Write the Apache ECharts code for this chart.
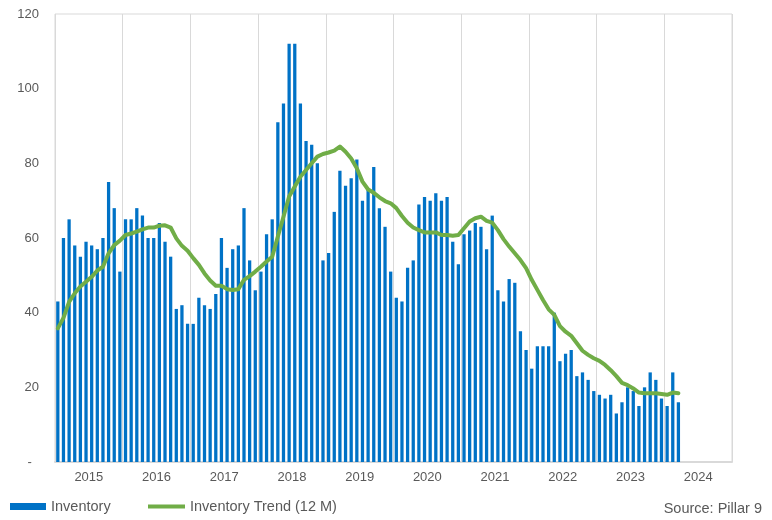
<!DOCTYPE html>
<html>
<head>
<meta charset="utf-8">
<title>Inventory</title>
<script src="https://cdn.jsdelivr.net/npm/echarts@6/dist/echarts.min.js"></script>
<style>
  html, body { margin: 0; padding: 0; background: #ffffff; }
  #chart { width: 772px; height: 520px; }
</style>
</head>
<body>
<div id="chart"></div>
<script>
// Year slots along the bottom axis
const years = ['2015', '2016', '2017', '2018', '2019', '2020', '2021', '2022', '2023', '2024'];

// One category per month, Jan 2015 .. Dec 2024
const months = [];
years.forEach(y => {
  for (let m = 1; m <= 12; m++) months.push(y + '-' + String(m).padStart(2, '0'));
});

// Monthly inventory, Jan 2015 .. Mar 2024
const inventory = [
  43, 60, 65, 58, 55, 59, 58, 57, 60, 75, 68, 51,
  65, 65, 68, 66, 60, 60, 64, 59, 55, 41, 42, 37,
  37, 44, 42, 41, 45, 60, 52, 57, 58, 68, 54, 46,
  51, 61, 65, 91, 96, 112, 112, 96, 86, 85, 80, 54,
  56, 67, 78, 74, 76, 81, 70, 73, 79, 68, 63, 51,
  44, 43, 52, 54, 69, 71, 70, 72, 70, 71, 59, 53,
  61, 62, 64, 63, 57, 66, 46, 43, 49, 48, 35, 30,
  25, 31, 31, 31, 40, 27, 29, 30, 23, 24, 22, 19,
  18, 17, 18, 13, 16, 20, 19, 15, 20, 24, 22, 17,
  15, 24, 16
];

// 12-month inventory trend, same months
const trend = [
  35.8, 38.6, 42.9, 45.2, 47.0, 48.3, 49.6, 51.3, 52.3, 55.9, 58.1, 59.3,
  60.8, 61.2, 61.7, 62.3, 62.8, 62.8, 63.3, 63.4, 62.8, 59.9, 57.9, 56.6,
  54.6, 52.8, 50.5, 48.6, 47.2, 47.2, 46.3, 46.1, 46.3, 48.8, 49.8, 51.0,
  52.3, 53.7, 55.0, 60.4, 65.7, 71.1, 73.8, 76.4, 78.2, 80.0, 81.8, 82.5,
  82.9, 83.4, 84.5, 83.1, 81.3, 78.7, 75.1, 73.0, 72.1, 70.9, 69.9, 69.3,
  68.0, 65.9, 64.1, 62.8, 62.1, 61.5, 61.5, 61.5, 60.8, 60.8, 60.6, 60.8,
  62.6, 64.4, 65.3, 65.7, 64.6, 64.1, 62.1, 59.7, 57.7, 55.9, 54.1, 51.9,
  48.8, 46.1, 43.4, 40.9, 39.4, 36.4, 34.9, 33.8, 31.8, 29.8, 28.7, 27.8,
  27.1, 26.0, 24.6, 23.0, 21.2, 20.6, 19.7, 18.6, 18.4, 18.4, 18.4, 18.2,
  18.0, 18.6, 18.4
];

const FONT = "'Liberation Sans', Arial, sans-serif";
const TEXT_COLOR = '#595959';
const GRID_COLOR = '#d9d9d9';
const BAR_COLOR = '#0072C6';
const LINE_COLOR = '#70AD47';

const chart = echarts.init(document.getElementById('chart'), null, { renderer: 'canvas' });

chart.setOption({
  animation: false,
  backgroundColor: '#ffffff',
  textStyle: { fontFamily: FONT },
  grid: {
    left: 55, right: 40, top: 14, bottom: 58,
    show: true, borderColor: GRID_COLOR, borderWidth: 1
  },
  legend: [
    {
      data: [{ name: 'Inventory', icon: 'rect' }],
      left: 10, top: 499, padding: 0,
      itemWidth: 36, itemHeight: 7,
      textStyle: { color: TEXT_COLOR, fontSize: 14.5, fontFamily: FONT }
    },
    {
      data: [{ name: 'Inventory Trend (12 M)', icon: 'rect' }],
      left: 148, top: 499, padding: 0,
      itemWidth: 37, itemHeight: 4,
      textStyle: { color: TEXT_COLOR, fontSize: 14.5, fontFamily: FONT }
    }
  ],
  graphic: [
    {
      type: 'text', right: 10, top: 501,
      style: { text: 'Source: Pillar 9', fill: TEXT_COLOR, font: '14.5px ' + FONT }
    }
  ],
  xAxis: [
    {
      type: 'category',
      data: months,
      show: false,
      boundaryGap: true
    },
    {
      type: 'category',
      data: years,
      position: 'bottom',
      boundaryGap: true,
      axisLine: { show: true, lineStyle: { color: GRID_COLOR, width: 2 } },
      axisTick: { show: false },
      axisLabel: { interval: 0, color: TEXT_COLOR, fontSize: 13, margin: 9, fontFamily: FONT },
      splitLine: { show: true, interval: 0, lineStyle: { color: GRID_COLOR, width: 1 } }
    }
  ],
  yAxis: {
    type: 'value',
    min: 0, max: 120, interval: 20,
    axisLine: { show: false },
    axisTick: { show: false },
    splitLine: { show: false },
    axisLabel: {
      color: TEXT_COLOR, fontSize: 13, margin: 16, fontFamily: FONT,
      formatter: v => (v === 0 ? '-  ' : String(v))
    }
  },
  series: [
    {
      name: 'Inventory',
      type: 'bar',
      xAxisIndex: 0,
      data: inventory,
      barWidth: '58%',
      itemStyle: { color: BAR_COLOR }
    },
    {
      name: 'Inventory Trend (12 M)',
      type: 'line',
      xAxisIndex: 0,
      data: trend,
      showSymbol: false,
      symbol: 'none',
      lineStyle: { color: LINE_COLOR, width: 4, cap: 'round', join: 'round' },
      itemStyle: { color: LINE_COLOR }
    }
  ]
});
</script>
</body>
</html>
